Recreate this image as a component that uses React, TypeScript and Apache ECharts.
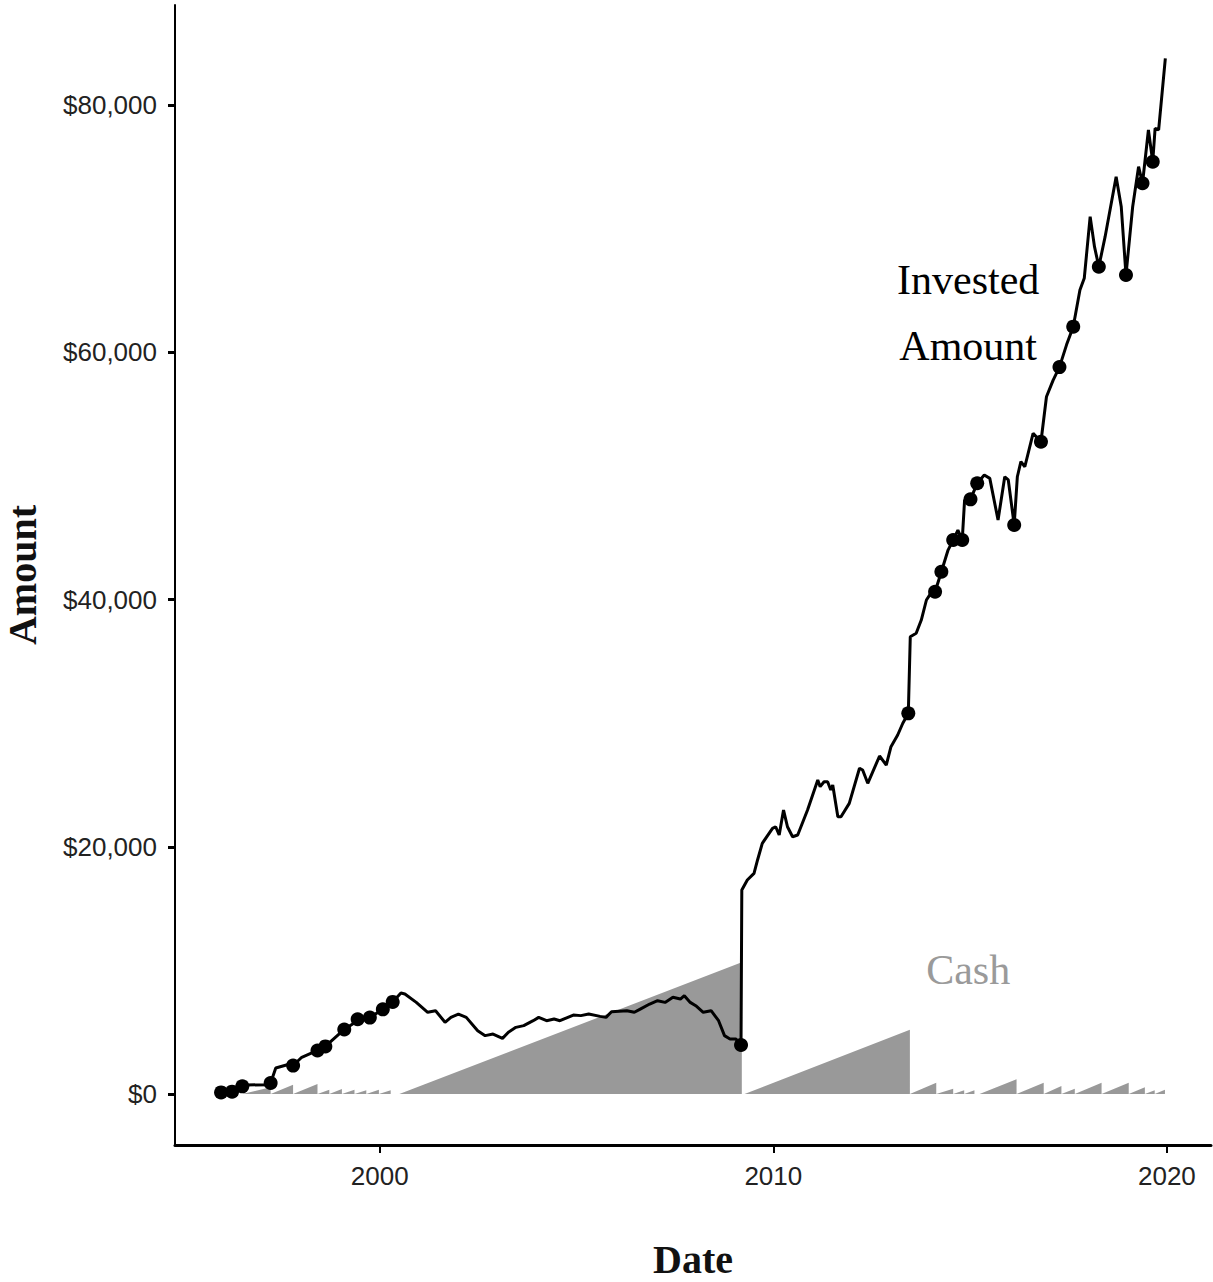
import { useEffect, useRef } from "react";
import * as echarts from "echarts";

// Invested amount line (decimal year, dollars)
const investedDates = [
  1995.97, 1996.25, 1996.51, 1996.61, 1997.19, 1997.23, 1997.36, 1997.72, 1997.8, 1998.02,
  1998.42, 1998.62, 1999.1, 1999.38, 1999.44, 1999.75, 2000.08, 2000.33, 2000.54, 2000.64,
  2000.93, 2001.22, 2001.42, 2001.66, 2001.81, 2002.0, 2002.2, 2002.49, 2002.68, 2002.88,
  2003.12, 2003.27, 2003.46, 2003.66, 2003.9, 2004.04, 2004.24, 2004.43, 2004.58, 2004.92,
  2005.11, 2005.31, 2005.6, 2005.75, 2005.89, 2006.28, 2006.47, 2006.62, 2006.86, 2007.06,
  2007.25, 2007.45, 2007.64, 2007.74, 2007.89, 2008.03, 2008.22, 2008.42, 2008.61, 2008.76,
  2008.9, 2009.05, 2009.18, 2009.2, 2009.34, 2009.51, 2009.6, 2009.72, 2009.98, 2010.06,
  2010.15, 2010.26, 2010.36, 2010.49, 2010.62, 2010.87, 2011.13, 2011.19, 2011.29, 2011.38,
  2011.46, 2011.51, 2011.64, 2011.72, 2011.93, 2012.19, 2012.27, 2012.4, 2012.7, 2012.87,
  2012.99, 2013.16, 2013.29, 2013.43, 2013.48, 2013.63, 2013.76, 2013.89, 2014.0, 2014.11,
  2014.27, 2014.44, 2014.57, 2014.69, 2014.8, 2014.86, 2015.01, 2015.18, 2015.36, 2015.5,
  2015.71, 2015.88, 2015.97, 2016.12, 2016.2, 2016.29, 2016.39, 2016.6, 2016.8, 2016.94,
  2017.11, 2017.27, 2017.45, 2017.62, 2017.79, 2017.9, 2018.05, 2018.16, 2018.27, 2018.43,
  2018.71, 2018.84, 2018.96, 2019.13, 2019.28, 2019.38, 2019.53, 2019.64, 2019.7, 2019.79,
  2019.96,
];
const investedValues = [
  130, 190, 620, 730, 750, 890, 2100, 2430, 2300, 2970,
  3520, 3850, 5220, 5800, 6050, 6180, 6850, 7450, 8170, 8090,
  7410, 6610, 6740, 5800, 6200, 6470, 6200, 5120, 4720, 4850,
  4500, 4990, 5390, 5530, 5930, 6200, 5930, 6070, 5930, 6390,
  6340, 6470, 6280, 6200, 6660, 6740, 6610, 6870, 7280, 7550,
  7410, 7820, 7680, 7950, 7410, 7140, 6610, 6740, 5930, 4720,
  4450, 4450, 3960, 16500, 17310, 17850, 18930, 20280, 21490, 21620,
  20950, 22970, 21620, 20810, 20950, 22970, 25400, 24860, 25260, 25260,
  24590, 24990, 22430, 22430, 23510, 26350, 26210, 25130, 27340, 26610,
  28090, 29040, 29990, 30790, 36990, 37270, 38340, 39960, 40500, 40630,
  42250, 44000, 44810, 45620, 44810, 48050, 48100, 49400, 50070, 49800,
  46430, 49930, 49670, 46030, 49930, 51150, 50740, 53440, 52760, 56400,
  57750, 58800, 60600, 62070, 65030, 65980, 70970, 68540, 66920, 69350,
  74200, 71770, 66250, 71770, 75010, 73670, 77980, 75410, 78110, 77980,
  83780,
];

// Purchase points (dots)
const purchaseDates = [
  1995.97, 1996.25, 1996.51, 1997.23, 1997.8, 1998.42, 1998.62, 1999.1, 1999.44, 1999.75,
  2000.08, 2000.33, 2009.18, 2013.43, 2014.11, 2014.27, 2014.57, 2014.8, 2015.01, 2015.18,
  2016.12, 2016.8, 2017.27, 2017.62, 2018.27, 2018.96, 2019.38, 2019.64,
];
const purchaseValues = [
  130, 190, 620, 890, 2300, 3520, 3850, 5220, 6050, 6180,
  6850, 7450, 3960, 30790, 40630, 42250, 44810, 44810, 48100, 49400,
  46030, 52760, 58800, 62070, 66920, 66250, 73670, 75410,
];

// Cash held (sawtooth area)
const cashDates = [
  1995.97, 1996.51, 1997.23, 1997.23, 1997.8, 1997.8, 1998.42, 1998.42, 1998.72, 1998.72,
  1999.04, 1999.04, 1999.36, 1999.36, 1999.66, 1999.66, 1999.98, 1999.98, 2000.28, 2000.28,
  2000.5, 2009.2, 2009.2, 2009.27, 2013.47, 2013.47, 2014.14, 2014.14, 2014.57, 2014.57,
  2014.85, 2014.85, 2015.11, 2015.11, 2015.24, 2016.18, 2016.18, 2016.87, 2016.87, 2017.32,
  2017.32, 2017.66, 2017.66, 2018.34, 2018.34, 2019.03, 2019.03, 2019.44, 2019.44, 2019.69,
  2019.69, 2019.95, 2019.95, 2020.0,
];
const cashValues = [
  0, 0, 550, 0, 750, 0, 800, 0, 350, 0,
  400, 0, 350, 0, 300, 0, 350, 0, 300, 0,
  0, 10650, 0, 0, 5200, 0, 920, 0, 430, 0,
  300, 0, 300, 0, 0, 1190, 0, 920, 0, 650,
  0, 430, 0, 920, 0, 920, 0, 540, 0, 300,
  0, 350, 0, 0,
];

const xTickYears = [2000, 2010, 2020];
const yTickValues = [0, 20000, 40000, 60000, 80000];

const annotationTexts = ["Invested\nAmount", "Cash"];
const annotationDates = [2014.95, 2014.95];
const annotationValues = [63200, 10050];

const SERIF = "'Liberation Serif', 'DejaVu Serif', serif";
const SANS = "'Liberation Sans Narrow', 'Liberation Sans', Arial, sans-serif";

export default function App() {
  const ref = useRef<HTMLDivElement>(null);

  useEffect(() => {
    if (!ref.current) return;
    const chart = echarts.init(ref.current, null, { renderer: "svg" });

    const invested = investedDates.map((d, i) => [d, investedValues[i]]);
    const purchases = purchaseDates.map((d, i) => [d, purchaseValues[i]]);
    const cash = cashDates.map((d, i) => [d, cashValues[i]]);
    const annColors = ["#000000", "#9a9a9a"];
    const annotations = annotationTexts.map((t, i) => ({
      value: [annotationDates[i], annotationValues[i]],
      name: t,
      label: { color: annColors[i] },
    }));

    chart.setOption({
      animation: false,
      backgroundColor: "#ffffff",
      grid: {
        left: 175,
        right: 2,
        top: 5,
        bottom: 137,
        containLabel: false,
        outerBoundsMode: "none",
      },
      xAxis: {
        type: "value",
        min: 1994.8,
        max: 2021.12,
        name: "Date",
        nameLocation: "middle",
        nameGap: 94,
        nameTextStyle: { fontFamily: SERIF, fontWeight: "bold", fontSize: 40, color: "#111" },
        axisLine: { show: true, onZero: false, lineStyle: { color: "#000", width: 3 } },
        axisTick: { show: true, customValues: xTickYears, length: 8, lineStyle: { color: "#000", width: 2 } },
        axisLabel: {
          customValues: xTickYears,
          formatter: (v: number) => String(Math.round(v)),
          fontFamily: SANS,
          fontSize: 26,
          color: "#222",
          margin: 18,
        },
        splitLine: { show: false },
      },
      yAxis: {
        type: "value",
        min: -4125,
        max: 88090,
        name: "Amount",
        nameLocation: "middle",
        nameRotate: 90,
        nameGap: 133,
        nameTextStyle: { fontFamily: SERIF, fontWeight: "bold", fontSize: 40, color: "#111" },
        axisLine: { show: true, onZero: false, lineStyle: { color: "#000", width: 2 } },
        axisTick: { show: true, customValues: yTickValues, length: 7, lineStyle: { color: "#000", width: 3 } },
        axisLabel: {
          customValues: yTickValues,
          formatter: (v: number) => "$" + Math.round(v).toLocaleString("en-US"),
          fontFamily: SANS,
          fontSize: 26,
          color: "#222",
          margin: 18,
        },
        splitLine: { show: false },
      },
      series: [
        {
          name: "Cash",
          type: "line",
          data: cash,
          showSymbol: false,
          symbol: "none",
          lineStyle: { width: 0, color: "#999999" },
          areaStyle: { color: "#999999", opacity: 1 },
          z: 1,
          silent: true,
        },
        {
          name: "Invested Amount",
          type: "line",
          data: invested,
          showSymbol: false,
          symbol: "none",
          lineStyle: { width: 3, color: "#000" },
          z: 3,
          silent: true,
        },
        {
          name: "Purchases",
          type: "scatter",
          data: purchases,
          symbol: "circle",
          symbolSize: 14,
          itemStyle: { color: "#000", opacity: 1 },
          z: 4,
          silent: true,
        },
        {
          name: "Annotations",
          type: "scatter",
          data: annotations,
          symbolSize: 1,
          itemStyle: { color: "rgba(0,0,0,0)", opacity: 1 },
          label: {
            show: true,
            position: "inside",
            formatter: (p: any) => p.name,
            fontFamily: SERIF,
            fontSize: 42,
            lineHeight: 66,
            align: "center",
          },
          z: 5,
          silent: true,
        },
      ],
    });

    return () => chart.dispose();
  }, []);

  return (
    <div
      ref={ref}
      style={{ position: "fixed", left: 0, top: 0, width: 1213, height: 1282, background: "#fff" }}
    />
  );
}
